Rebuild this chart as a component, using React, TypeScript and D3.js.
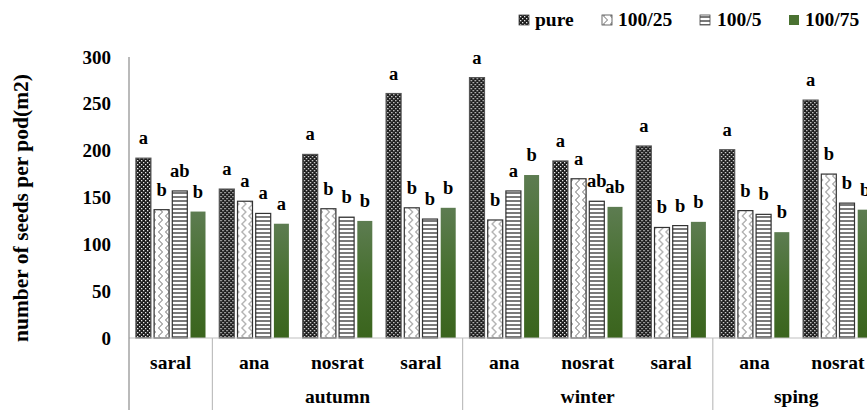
import React from "react";
import * as d3 from "d3";

const categories = ["saral", "ana", "nosrat", "saral", "ana", "nosrat", "saral", "ana", "nosrat"];
const seasonLabels = ["", "autumn", "winter", "sping"];
const seasonSizes = [1, 3, 3, 2];
const seriesNames = ["pure", "100/25", "100/5", "100/75"];
const pureValues = [192, 159, 196, 261, 278, 189, 205, 201, 254];
const p25Values = [137, 146, 138, 139, 126, 170, 118, 136, 175];
const p5Values = [157, 133, 129, 127, 157, 146, 120, 132, 144];
const p75Values = [135, 122, 125, 139, 174, 140, 124, 113, 137];
const pureLetters = ["a", "a", "a", "a", "a", "a", "a", "a", "a"];
const p25Letters = ["b", "a", "b", "b", "b", "a", "b", "b", "b"];
const p5Letters = ["ab", "a", "b", "b", "a", "ab", "b", "b", "b"];
const p75Letters = ["b", "a", "b", "b", "b", "ab", "b", "b", "b"];
const yTicks = [0, 50, 100, 150, 200, 250, 300];

const seriesValues = [pureValues, p25Values, p5Values, p75Values];
const seriesLetters = [pureLetters, p25Letters, p5Letters, p75Letters];
const fills = ["url(#patPure)", "url(#pat25)", "url(#pat5)", "url(#gradGreen)"];
const strokes = ["#555", "#333", "#333", "none"];
const legendFills = ["url(#patPure)", "url(#pat25)", "url(#pat5)", "#4a7231"];

const FONT = "'Liberation Serif', 'Times New Roman', serif";

export default function App() {
  const W = 867, H = 410;
  const x0 = 129, catW = 83.4;
  const x = d3.scaleBand<number>().domain(d3.range(categories.length)).range([x0, x0 + catW * categories.length]).paddingInner(0).paddingOuter(0);
  const xs = d3.scaleBand<number>().domain(d3.range(seriesNames.length)).range([0, x.bandwidth()]).paddingInner(0.176).paddingOuter(0.379);
  const y = d3.scaleLinear().domain([0, 300]).range([338, 57]);

  const bounds: number[] = [0];
  seasonSizes.forEach((s, i) => bounds.push(bounds[i] + s));

  const legendX = [519, 602, 700, 789];
  const legendTextX = [535, 618, 717, 805];

  return (
    <svg width={W} height={H} style={{ position: "absolute", left: 0, top: 0, background: "#fff" }} fontFamily={FONT}>
      <defs>
        <pattern id="patPure" width="4" height="4" patternUnits="userSpaceOnUse">
          <rect width="4" height="4" fill="#1c1c1c" />
          <rect x="0" y="0" width="1.3" height="1.3" fill="#e8e8e8" />
          <rect x="2" y="2" width="1.3" height="1.3" fill="#e8e8e8" />
        </pattern>
        <pattern id="pat25" width="7" height="8" patternUnits="userSpaceOnUse">
          <rect width="7" height="8" fill="#fff" />
          <path d="M1.5,0 L5.5,4 L1.5,8" fill="none" stroke="#6a6a6a" strokeWidth="1" />
        </pattern>
        <pattern id="pat5" width="4" height="4" patternUnits="userSpaceOnUse">
          <rect width="4" height="4" fill="#fff" />
          <rect y="0" width="4" height="2" fill="#7a7a7a" />
        </pattern>
        <linearGradient id="gradGreen" x1="0" y1="0" x2="0" y2="1">
          <stop offset="0" stopColor="#5d7c51" />
          <stop offset="0.5" stopColor="#47702f" />
          <stop offset="1" stopColor="#3a641d" />
        </linearGradient>
      </defs>

      {seriesNames.map((n, i) => (
        <g key={n}>
          <rect x={legendX[i]} y={15} width={10} height={10} fill={legendFills[i]} stroke={i === 3 ? "none" : "#444"} strokeWidth={0.8} />
          <text x={legendTextX[i]} y={26} fontSize={19.5} fontWeight="bold" fill="#000">{n}</text>
        </g>
      ))}

      <text transform={`translate(28,208) rotate(-90)`} textAnchor="middle" fontSize={21.5} fontWeight="bold" fill="#000">
        number of seeds per pod(m2)
      </text>

      {yTicks.map((t) => (
        <text key={t} x={111} y={y(t)} dy="0.35em" textAnchor="end" fontSize={19} fontWeight="bold" fill="#000">{t}</text>
      ))}

      {categories.map((c, ci) => (
        <g key={ci} transform={`translate(${x(ci)},0)`}>
          {seriesValues.map((vals, si) => (
            <rect key={si} x={xs(si)} y={y(vals[ci])} width={xs.bandwidth()} height={y(0) - y(vals[ci])}
              fill={fills[si]} stroke={strokes[si]} strokeWidth={1.2} />
          ))}
          {seriesValues.map((vals, si) => (
            <text key={"l" + si} x={(xs(si) as number) + xs.bandwidth() / 2} y={y(vals[ci]) - 14} textAnchor="middle"
              fontSize={18.5} fontWeight="bold" fill="#000">{seriesLetters[si][ci]}</text>
          ))}
        </g>
      ))}

      <line x1={x0} x2={W + 20} y1={y(0)} y2={y(0)} stroke="#bfbfbf" strokeWidth={1.2} />
      <line x1={x0} x2={x0} y1={y(300)} y2={H} stroke="#8c8c8c" strokeWidth={1.2} />
      {bounds.slice(1).map((b, i) => (
        <line key={i} x1={x0 + b * catW} x2={x0 + b * catW} y1={y(0)} y2={H} stroke="#bfbfbf" strokeWidth={1.2} />
      ))}

      {categories.map((c, ci) => (
        <text key={ci} x={(x(ci) as number) + x.bandwidth() / 2} y={369} textAnchor="middle" fontSize={19.5} fontWeight="bold" fill="#000">{c}</text>
      ))}
      {seasonLabels.map((s, i) => (
        <text key={i} x={x0 + ((bounds[i] + bounds[i + 1]) / 2) * catW} y={403} textAnchor="middle" fontSize={19.5} fontWeight="bold" fill="#000">{s}</text>
      ))}
    </svg>
  );
}
